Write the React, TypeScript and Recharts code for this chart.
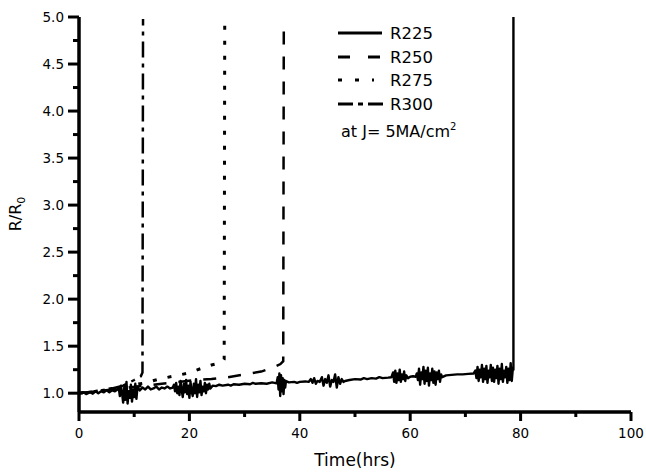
import React from 'react';
import { LineChart, Line, XAxis, YAxis, Legend, Label, ReferenceLine } from 'recharts';

const xTicks = [0, 10, 20, 30, 40, 50, 60, 70, 80, 90, 100];
const yTicks = [1.0, 1.25, 1.5, 1.75, 2.0, 2.25, 2.5, 2.75, 3.0, 3.25, 3.5, 3.75, 4.0, 4.25, 4.5, 4.75, 5.0];

const r225: [number, number][] = [
  [0, 1.0], [0.8, 1.01], [1.3, 0.99], [2, 1.01], [2.5, 0.995], [3, 1.02], [3.5, 1.0], [4, 1.02], [4.5, 1.01], [5, 1.03], [5.5, 1.01], [6, 1.03], [6.5, 1.02], [7, 1.04],
  [7.2, 1.06], [7.4, 0.97], [7.6, 1.08], [7.8, 1.0], [8.0, 0.9], [8.2, 1.06], [8.4, 0.93], [8.6, 1.12], [8.8, 0.89], [9.0, 1.02], [9.2, 0.95], [9.4, 1.09], [9.6, 0.91], [9.8, 1.04], [10.0, 0.96], [10.2, 1.1], [10.4, 0.94], [10.6, 1.07],
  [11, 1.03], [11.5, 1.06], [12, 1.04], [12.5, 1.07], [13, 1.04], [13.5, 1.05], [14, 1.07], [14.5, 1.04], [15, 1.06], [15.5, 1.05], [16, 1.07], [16.5, 1.05], [17, 1.06],
  [17.2, 1.09], [17.4, 1.02], [17.6, 1.11], [17.8, 1.0], [18.0, 1.07], [18.2, 0.98], [18.4, 1.13], [18.6, 1.03], [18.8, 0.96], [19.0, 1.1], [19.2, 1.01], [19.4, 1.14], [19.6, 0.99], [19.8, 1.08], [20.0, 0.95], [20.2, 1.12], [20.4, 1.02], [20.6, 0.97], [20.8, 1.1], [21.0, 1.0], [21.2, 1.15], [21.4, 0.96], [21.6, 1.09], [21.8, 1.01], [22.0, 1.13], [22.2, 0.98], [22.4, 1.07], [22.6, 1.02], [22.8, 1.11], [23.0, 1.0], [23.2, 1.09], [23.4, 1.04], [23.6, 1.1], [23.8, 1.05],
  [24.2, 1.08], [24.8, 1.075], [25.4, 1.09], [26, 1.08], [27, 1.09], [27.5, 1.08], [28, 1.095], [29, 1.09], [30, 1.1], [31, 1.095], [31.5, 1.11], [32, 1.1], [33, 1.105], [34, 1.1], [35, 1.115], [35.8, 1.105],
  [36.0, 1.17], [36.15, 1.04], [36.3, 1.21], [36.45, 0.97], [36.6, 1.19], [36.75, 1.02], [36.9, 1.16], [37.05, 0.99], [37.2, 1.14], [37.35, 1.06], [37.5, 1.13],
  [38, 1.115], [39, 1.12], [39.5, 1.11], [40, 1.12], [41, 1.125], [41.6, 1.12],
  [42.0, 1.15], [42.3, 1.11], [42.6, 1.16], [42.9, 1.1], [43.2, 1.13], [43.6, 1.12], [44.0, 1.17], [44.3, 1.08], [44.6, 1.15], [44.9, 1.11], [45.2, 1.19], [45.5, 1.07], [45.8, 1.14], [46.1, 1.12], [46.4, 1.2], [46.7, 1.06], [47.0, 1.17], [47.3, 1.1], [47.6, 1.15], [47.9, 1.12], [48.2, 1.13],
  [49, 1.14], [50, 1.15], [51, 1.145], [51.6, 1.16], [52.2, 1.15], [53, 1.16], [53.8, 1.155], [54.4, 1.17], [55, 1.16], [56, 1.165],
  [56.6, 1.17], [56.9, 1.22], [57.1, 1.12], [57.3, 1.24], [57.5, 1.11], [57.7, 1.21], [57.9, 1.14], [58.1, 1.25], [58.3, 1.12], [58.5, 1.2], [58.7, 1.15], [58.9, 1.23], [59.1, 1.13], [59.3, 1.19], [59.6, 1.16],
  [60, 1.175], [60.5, 1.18], [61, 1.175],
  [61.2, 1.21], [61.4, 1.14], [61.6, 1.26], [61.8, 1.09], [62.0, 1.22], [62.2, 1.15], [62.4, 1.28], [62.6, 1.1], [62.8, 1.24], [63.0, 1.13], [63.2, 1.27], [63.4, 1.08], [63.6, 1.21], [63.8, 1.14], [64.0, 1.26], [64.2, 1.11], [64.4, 1.23], [64.6, 1.09], [64.8, 1.22], [65.0, 1.15], [65.2, 1.24], [65.4, 1.12], [65.6, 1.2], [65.8, 1.17],
  [66.5, 1.19], [67.5, 1.195], [68.5, 1.2], [69.5, 1.2], [70.5, 1.205], [71.5, 1.21],
  [71.8, 1.24], [72.0, 1.16], [72.2, 1.28], [72.4, 1.13], [72.6, 1.25], [72.8, 1.17], [73.0, 1.3], [73.2, 1.12], [73.4, 1.26], [73.6, 1.15], [73.8, 1.29], [74.0, 1.11], [74.2, 1.24], [74.4, 1.17], [74.6, 1.3], [74.8, 1.13], [75.0, 1.27], [75.2, 1.12], [75.4, 1.25], [75.6, 1.16], [75.8, 1.29], [76.0, 1.1], [76.2, 1.26], [76.4, 1.15], [76.6, 1.31], [76.8, 1.12], [77.0, 1.24], [77.2, 1.17], [77.4, 1.28], [77.6, 1.11], [77.8, 1.26], [78.0, 1.14], [78.2, 1.32], [78.4, 1.13], [78.6, 1.27],
  [78.7, 1.25], [78.7, 5.0],
];

const r250: [number, number][] = [
  [0, 1.0], [3, 1.02], [6, 1.04], [9, 1.06], [12, 1.08], [15, 1.1], [18, 1.12], [21, 1.14], [24, 1.15], [27, 1.17], [30, 1.2], [33, 1.23], [35, 1.27], [36.5, 1.31], [37, 1.34], [37.1, 4.88],
];

const r275: [number, number][] = [
  [0, 1.0], [3, 1.02], [6, 1.05], [9, 1.08], [12, 1.11], [14.5, 1.15], [17, 1.18], [19.5, 1.21], [22, 1.26], [24, 1.3], [26, 1.33], [26.3, 1.36], [26.4, 4.91],
];

const r300: [number, number][] = [
  [0, 1.0], [3, 1.02], [6, 1.05], [8, 1.08], [10, 1.14], [11.2, 1.18], [11.5, 1.22], [11.6, 4.98],
];

const toRows = (pairs: [number, number][]) => pairs.map(([t, r]) => ({ t, r }));

const FONT = 'DejaVu Sans';

const XTick = (props: any) => {
  const { x, y, payload } = props;
  const major = payload.value % 20 === 0;
  return (
    <g>
      <line x1={x} x2={x} y1={y} y2={y + (major ? 9 : 5)} stroke="#000" strokeWidth={3} />
      {major && (
        <text x={x} y={y + 26} textAnchor="middle" fontSize={13.5} fontFamily={FONT} fill="#000">
          {payload.value}
        </text>
      )}
    </g>
  );
};

const YTick = (props: any) => {
  const { x, y, payload } = props;
  const major = Math.abs(payload.value * 2 - Math.round(payload.value * 2)) < 1e-6;
  return (
    <g>
      <line x1={x - (major ? 11 : 6)} x2={x} y1={y} y2={y} stroke="#000" strokeWidth={3} />
      {major && (
        <text x={x - 15} y={y + 5} textAnchor="end" fontSize={13.5} fontFamily={FONT} fill="#000">
          {payload.value.toFixed(1)}
        </text>
      )}
    </g>
  );
};

const LegendBox = () => {
  const ox = 330;
  const oy = 15;
  const rows = [
    { name: 'R225', dash: undefined as string | undefined, y: 33, x2: 382 },
    { name: 'R250', dash: '12 18', y: 57, x2: 382 },
    { name: 'R275', dash: '4 13', y: 80, x2: 374 },
    { name: 'R300', dash: '15 5 5 5', y: 104, x2: 383 },
  ];
  return (
    <svg width={160} height={135} style={{ display: 'block', overflow: 'visible' }}>
      {rows.map((r) => (
        <g key={r.name}>
          <line x1={338 - ox} x2={r.x2 - ox} y1={r.y - oy} y2={r.y - oy} stroke="#000" strokeWidth={3} strokeDasharray={r.dash} />
          <text x={390 - ox} y={r.y - oy + 6} fontSize={16.5} fontFamily={FONT} fill="#000">{r.name}</text>
        </g>
      ))}
      <text x={341 - ox} y={137 - oy} fontSize={16} fontFamily={FONT} fill="#000">
        at J= 5MA/cm<tspan dy={-7} fontSize={10}>2</tspan>
      </text>
    </svg>
  );
};

export default function App() {
  return (
    <div style={{ position: 'absolute', left: 0, top: 0, width: 646, height: 472, background: '#fff' }}>
      <LineChart width={646} height={472} margin={{ top: 17, right: 15, bottom: 0, left: 0 }}>
        <XAxis
          type="number"
          dataKey="t"
          domain={[0, 100]}
          ticks={xTicks}
          interval={0}
          height={60}
          tickSize={0}
          tickMargin={0}
          tickLine={false}
          axisLine={{ stroke: '#000', strokeWidth: 3 }}
          tick={XTick}
          allowDataOverflow
        >
          <Label
            content={() => (
              <text x={355} y={466} textAnchor="middle" fontSize={17} fontFamily={FONT} fill="#000">
                Time(hrs)
              </text>
            )}
          />
        </XAxis>
        <YAxis
          type="number"
          dataKey="r"
          domain={[0.8, 5]}
          ticks={yTicks}
          interval={0}
          width={79}
          tickSize={0}
          tickMargin={0}
          tickLine={false}
          axisLine={{ stroke: '#000', strokeWidth: 3 }}
          tick={YTick}
          allowDataOverflow
        >
          <Label
            content={() => (
              <text x={21} y={214} transform="rotate(-90 21 214)" textAnchor="middle" fontSize={16} fontFamily={FONT} fill="#000">
                R/R<tspan dy={4} fontSize={11}>0</tspan>
              </text>
            )}
          />
        </YAxis>
        <ReferenceLine x={0} stroke="#000" strokeWidth={3} ifOverflow="visible" />
        <ReferenceLine y={0.8} stroke="#000" strokeWidth={3} ifOverflow="visible" />
        <Legend
          layout="vertical"
          align="center"
          verticalAlign="middle"
          content={() => <LegendBox />}
          wrapperStyle={{ left: 330, top: 15, width: 160, height: 135, pointerEvents: 'none' }}
        />
        <Line data={toRows(r300)} dataKey="r" name="R300" stroke="#000" strokeWidth={2.5} strokeDasharray="16 6 4 6" dot={false} isAnimationActive={false} />
        <Line data={toRows(r275)} dataKey="r" name="R275" stroke="#000" strokeWidth={3} strokeDasharray="4 11" dot={false} isAnimationActive={false} />
        <Line data={toRows(r250)} dataKey="r" name="R250" stroke="#000" strokeWidth={2.5} strokeDasharray="13 12" dot={false} isAnimationActive={false} />
        <Line data={toRows(r225)} dataKey="r" name="R225" stroke="#000" strokeWidth={2.4} strokeLinejoin="round" dot={false} isAnimationActive={false} />
      </LineChart>
    </div>
  );
}
